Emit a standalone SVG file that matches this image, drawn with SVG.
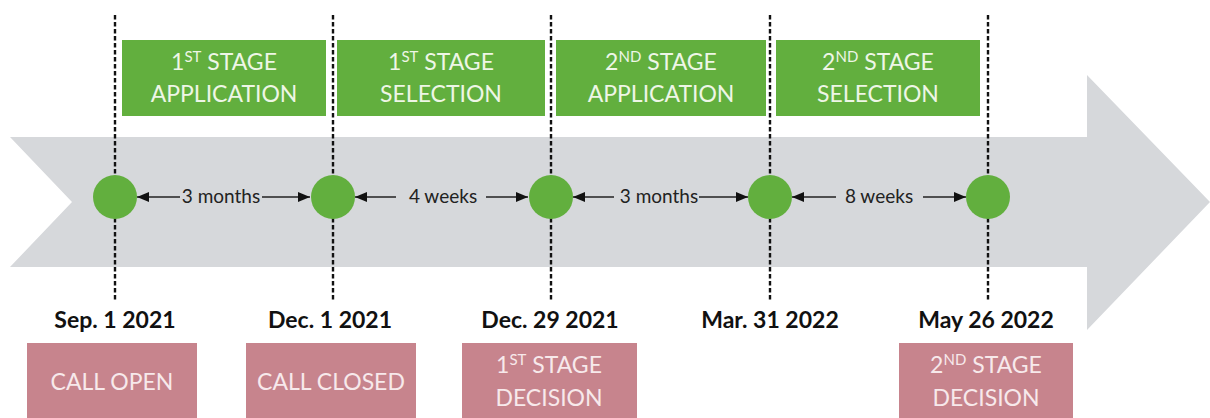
<svg xmlns="http://www.w3.org/2000/svg" width="1210" height="418" viewBox="0 0 1210 418">
<defs>
<style>
.stage{fill:#62AF3E}
.stxt{font-family:Lato,"Liberation Sans",sans-serif;font-size:23px;fill:#EEF6E6;text-anchor:middle}
.dec{fill:#C7848D}
.dtxt{font-family:Lato,"Liberation Sans",sans-serif;font-size:23px;fill:#F7E9EB;text-anchor:middle}
.date{font-family:Lato,"Liberation Sans",sans-serif;font-size:23px;font-weight:bold;fill:#111;text-anchor:middle}
.dash{stroke:#111;stroke-width:2.4;stroke-dasharray:4.5 2.5;fill:none}
.dot{fill:#62AF3E}
.conn{stroke:#222;stroke-width:1.6;fill:none}
.itv{font-family:Lato,"Liberation Sans",sans-serif;font-size:19px;fill:#222;text-anchor:middle}
</style>
<marker id="ah" viewBox="0 0 12 10" refX="12" refY="5" markerWidth="12" markerHeight="10" markerUnits="userSpaceOnUse" orient="auto-start-reverse">
<path d="M0,0 L12,5 L0,10 Z" fill="#111"/>
</marker>
</defs>
<rect width="1210" height="418" fill="#fff"/>
<polygon id="timeline" points="10,137 1087,137 1087,75 1210,202 1087,330 1087,267 10,267 72,202" fill="#D6D8DB"/>
<g id="guides">
<line class="dash" x1="115" y1="15" x2="115" y2="300"/>
<line class="dash" x1="333" y1="15" x2="333" y2="300"/>
<line class="dash" x1="551" y1="15" x2="551" y2="300"/>
<line class="dash" x1="770" y1="15" x2="770" y2="300"/>
<line class="dash" x1="988" y1="15" x2="988" y2="300"/>
</g>
<g id="stage1app"><rect class="stage" x="122" y="40" width="204" height="76"/>
<text class="stxt" x="224" y="70">1<tspan font-size="15" dy="-8">ST</tspan><tspan dy="8"> STAGE</tspan></text>
<text class="stxt" x="224" y="102">APPLICATION</text></g>
<g id="stage1sel"><rect class="stage" x="337" y="40" width="208" height="76"/>
<text class="stxt" x="441" y="70">1<tspan font-size="15" dy="-8">ST</tspan><tspan dy="8"> STAGE</tspan></text>
<text class="stxt" x="441" y="102">SELECTION</text></g>
<g id="stage2app"><rect class="stage" x="556" y="40" width="210" height="76"/>
<text class="stxt" x="661" y="70">2<tspan font-size="15" dy="-8">ND</tspan><tspan dy="8"> STAGE</tspan></text>
<text class="stxt" x="661" y="102">APPLICATION</text></g>
<g id="stage2sel"><rect class="stage" x="776" y="40" width="204" height="76"/>
<text class="stxt" x="878" y="70">2<tspan font-size="15" dy="-8">ND</tspan><tspan dy="8"> STAGE</tspan></text>
<text class="stxt" x="878" y="102">SELECTION</text></g>
<g id="connectors">
<line class="conn" x1="180" y1="197" x2="137" y2="197" marker-end="url(#ah)"/>
<line class="conn" x1="262" y1="197" x2="310" y2="197" marker-end="url(#ah)"/>
<line class="conn" x1="396" y1="197" x2="355" y2="197" marker-end="url(#ah)"/>
<line class="conn" x1="486" y1="197" x2="528" y2="197" marker-end="url(#ah)"/>
<line class="conn" x1="614" y1="197" x2="573" y2="197" marker-end="url(#ah)"/>
<line class="conn" x1="699" y1="197" x2="748" y2="197" marker-end="url(#ah)"/>
<line class="conn" x1="836" y1="197" x2="792" y2="197" marker-end="url(#ah)"/>
<line class="conn" x1="923" y1="197" x2="966" y2="197" marker-end="url(#ah)"/>
<text class="itv" x="221" y="203">3 months</text>
<text class="itv" x="443" y="203">4 weeks</text>
<text class="itv" x="659" y="203">3 months</text>
<text class="itv" x="879" y="203">8 weeks</text>
</g>
<g id="m1"><circle class="dot" cx="115" cy="197" r="22"/><text class="date" x="115" y="328">Sep. 1 2021</text>
<rect class="dec" x="27" y="343" width="170" height="80"/><text class="dtxt" x="112" y="390">CALL OPEN</text></g>
<g id="m2"><circle class="dot" cx="333" cy="197" r="22"/><text class="date" x="330" y="328">Dec. 1 2021</text>
<rect class="dec" x="246" y="343" width="170" height="80"/><text class="dtxt" x="331" y="390">CALL CLOSED</text></g>
<g id="m3"><circle class="dot" cx="551" cy="197" r="22"/><text class="date" x="550" y="328">Dec. 29 2021</text>
<rect class="dec" x="462" y="343" width="175" height="80"/>
<text class="dtxt" x="549" y="373">1<tspan font-size="15" dy="-8">ST</tspan><tspan dy="8"> STAGE</tspan></text>
<text class="dtxt" x="549" y="406">DECISION</text></g>
<g id="m4"><circle class="dot" cx="770" cy="197" r="22"/><text class="date" x="770" y="328">Mar. 31 2022</text></g>
<g id="m5"><circle class="dot" cx="988" cy="197" r="22"/><text class="date" x="986" y="328">May 26 2022</text>
<rect class="dec" x="899" y="343" width="174" height="80"/>
<text class="dtxt" x="986" y="373">2<tspan font-size="15" dy="-8">ND</tspan><tspan dy="8"> STAGE</tspan></text>
<text class="dtxt" x="986" y="406">DECISION</text></g>
</svg>
